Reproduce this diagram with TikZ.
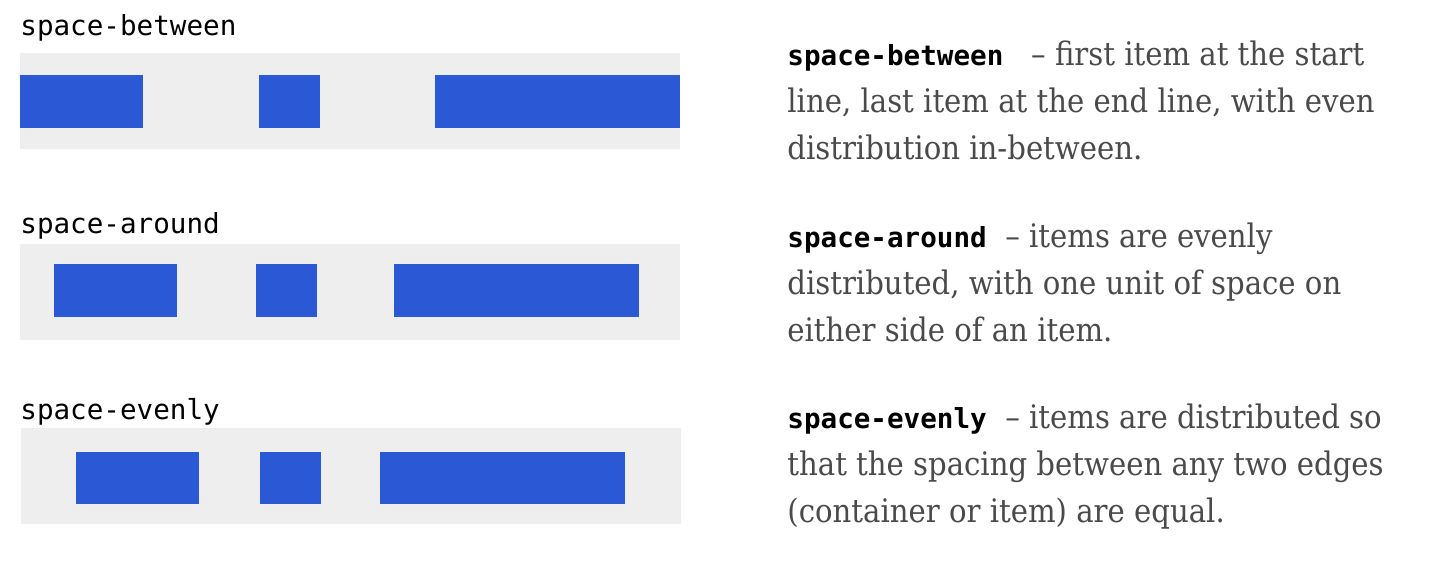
\documentclass[tikz,border=0pt]{standalone}
\usepackage{fontspec}
\setmainfont{DejaVu Serif Condensed}
\setmonofont{DejaVu Sans Mono}
\usepackage{tikz}
\usetikzlibrary{positioning}
\definecolor{itemblue}{HTML}{2B59D6}
\definecolor{boxgray}{HTML}{EEEEEE}
\definecolor{textgray}{HTML}{4A4A4A}
\newcommand{\propname}[1]{{\color{black}\ttfamily\bfseries\fontsize{13.8}{16}\selectfont #1}}

\begin{document}
\begin{tikzpicture}[
  x=0.5pt, y=-0.5pt,
  flexbox/.style={fill=boxgray},
  flexitem/.style={fill=itemblue},
  rowlabel/.style={anchor=base west, inner sep=0pt, font=\ttfamily\fontsize{13.8}{16}\selectfont},
  explain/.style={anchor=base west, inner sep=0pt, align=left, text=textgray,
    font=\fontsize{16.2}{23.5}\selectfont}
]
  \useasboundingbox (0,0) rectangle (1452,586);

  % --- space-between ---
  \node[rowlabel] (lbetween) at (20,35) {space-between};
  \fill[flexbox] (20,53) rectangle (680,149);
  \fill[flexitem] (20,75) rectangle (143,128);
  \fill[flexitem] (259,75) rectangle (320,128);
  \fill[flexitem] (435,75) rectangle (680,128);

  % --- space-around ---
  \node[rowlabel] (laround) at (20,233) {space-around};
  \fill[flexbox] (20,244) rectangle (680,340);
  \fill[flexitem] (54,264) rectangle (177,317);
  \fill[flexitem] (256,264) rectangle (317,317);
  \fill[flexitem] (394,264) rectangle (639,317);

  % --- space-evenly ---
  \node[rowlabel] (levenly) at (20,419) {space-evenly};
  \fill[flexbox] (21,428) rectangle (681,524);
  \fill[flexitem] (76,452) rectangle (199,504);
  \fill[flexitem] (260,452) rectangle (321,504);
  \fill[flexitem] (380,452) rectangle (625,504);

  % Explanations (anchored at the baseline of the last line)
  \node[explain] (tbetween) at (787,159) {%
    \propname{space-between}\ \ \ -- first item at the start\\
    line, last item at the end line, with even\\
    distribution in-between.};
  \node[explain] (taround) at (787,341) {%
    \propname{space-around}\ \ -- items are evenly\\
    distributed, with one unit of space on\\
    either side of an item.};
  \node[explain] (tevenly) at (787,522) {%
    \propname{space-evenly}\ \ -- items are distributed so\\
    that the spacing between any two edges\\
    (container or item) are equal.};
\end{tikzpicture}
\end{document}
